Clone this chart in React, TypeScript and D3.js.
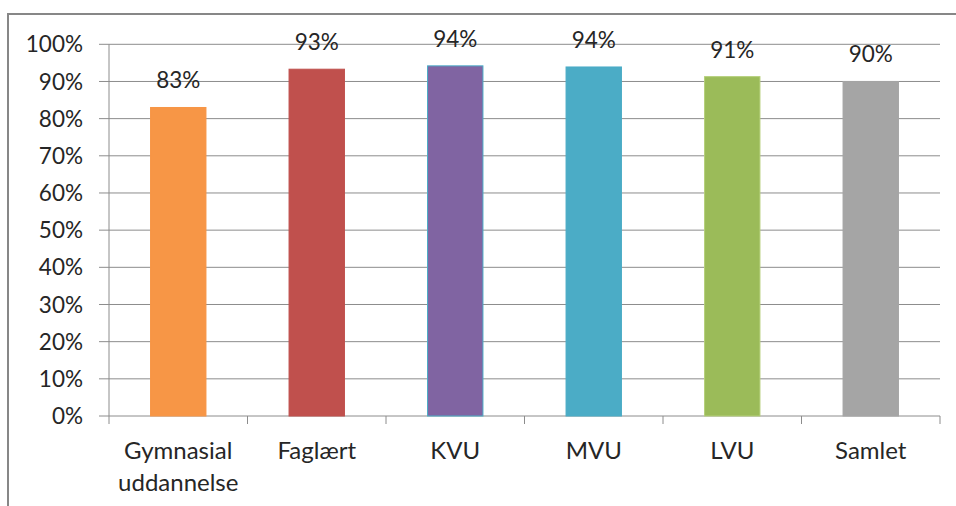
import * as d3 from "d3";

const categories = ["Gymnasial\nuddannelse", "Faglært", "KVU", "MVU", "LVU", "Samlet"];
const values = [0.83, 0.933, 0.942, 0.939, 0.913, 0.9];
const valueLabels = ["83%", "93%", "94%", "94%", "91%", "90%"];
const colors = ["#F79646", "#C0504D", "#8064A2", "#4BACC6", "#9BBB59", "#A5A5A5"];
const strokes = ["#F79646", "#C0504D", "#4BACC6", "#4BACC6", "#B5CF7A", "#A5A5A5"];
const yTicks = [0, 0.1, 0.2, 0.3, 0.4, 0.5, 0.6, 0.7, 0.8, 0.9, 1];

const W = 956;
const H = 506;
const font = "Lato, 'Open Sans', sans-serif";

export default function App() {
  const x = d3.scaleBand().domain(categories).range([109, 940]).paddingInner(0.6).paddingOuter(0.3);
  const xb = d3.scaleBand().domain(categories).range([109, 940]);
  const y = d3.scaleLinear().domain([0, 1]).range([416, 44.3]);
  const fmt = d3.format(".0%");

  return (
    <svg width={W} height={H} style={{ position: "absolute", left: 0, top: 0 }}>
      <rect x={0} y={0} width={W} height={H} fill="#fff" />
      <rect x={8} y={14} width={W} height={H} fill="none" stroke="#878787" strokeWidth={2} />

      {/* grid + y axis */}
      {yTicks.map((t) => (
        <g key={t}>
          <line x1={99} x2={940} y1={y(t)} y2={y(t)} stroke="#8c8c8c" strokeWidth={1} />
          <text x={83} y={y(t)} dy="0.36em" textAnchor="end" fontFamily={font} fontSize={22.5} fill="#262626">
            {fmt(t)}
          </text>
        </g>
      ))}
      <line x1={109} x2={109} y1={y(1)} y2={y(0) + 8} stroke="#8c8c8c" />
      {categories.map((c) => (
        <line key={c} x1={xb(c)! + xb.bandwidth()} x2={xb(c)! + xb.bandwidth()} y1={y(0)} y2={y(0) + 8} stroke="#8c8c8c" />
      ))}

      {/* bars */}
      {categories.map((c, i) => (
        <g key={c}>
          <rect
            x={x(c)}
            y={y(values[i])}
            width={x.bandwidth()}
            height={y(0) - y(values[i])}
            fill={colors[i]}
            stroke={strokes[i]}
            strokeWidth={1}
          />
          <text
            x={x(c)! + x.bandwidth() / 2}
            y={y(values[i]) - 19}
            textAnchor="middle"
            fontFamily={font}
            fontSize={22.5}
            fill="#262626"
          >
            {valueLabels[i]}
          </text>
          <text x={x(c)! + x.bandwidth() / 2} y={459} textAnchor="middle" fontFamily={font} fontSize={24} fill="#262626">
            {c.split("\n").map((line, j) => (
              <tspan key={j} x={x(c)! + x.bandwidth() / 2} dy={j === 0 ? 0 : 32}>
                {line}
              </tspan>
            ))}
          </text>
        </g>
      ))}
    </svg>
  );
}
